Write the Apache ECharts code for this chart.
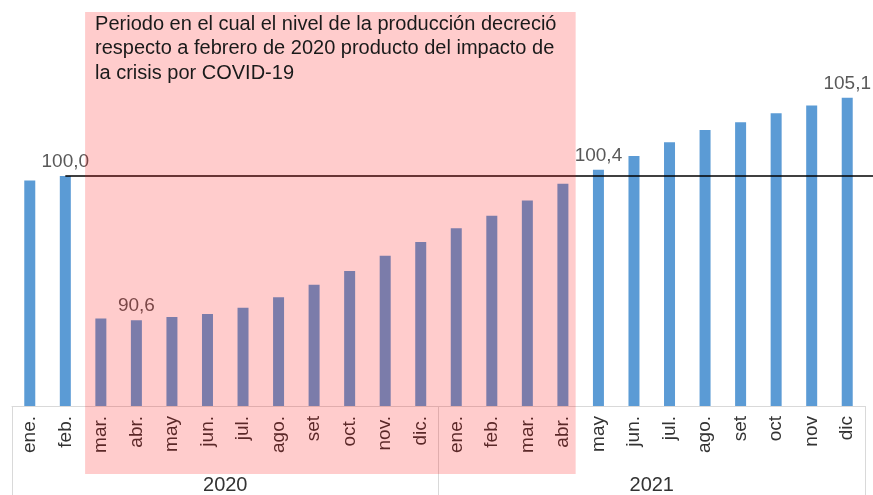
<!DOCTYPE html>
<html>
<head>
<meta charset="utf-8">
<title>Producción - índice feb 2020 = 100</title>
<script src="https://cdn.jsdelivr.net/npm/echarts@6/dist/echarts.min.js"></script>
<style>
html,body{margin:0;padding:0;background:#fff;}
#produccion_chart{width:873px;height:495px;}
</style>
</head>
<body>
<div id="produccion_chart"></div>
<script>
// datos
var meses = ['ene.','feb.','mar.','abr.','may','jun.','jul.','ago.','set','oct.','nov.','dic.',
             'ene.','feb.','mar.','abr.','may','jun.','jul.','ago.','set','oct','nov','dic'];
var anios = ['2020','2021'];
var valores = [99.7,100.0,90.7,90.6,90.8,91.0,91.4,92.1,92.9,93.8,94.8,95.7,
               96.6,97.4,98.4,99.5,100.4,101.3,102.2,103.0,103.5,104.1,104.6,105.1];
var etiquetados = [1,3,16,23];   // barras con etiqueta de valor
var nivelBase = 100;
var periodoCrisis = [2,15];      // mar. 2020 - abr. 2021
var textoCrisis = 'Periodo en el cual el nivel de la producción decreció\nrespecto a febrero de 2020 producto del impacto de\nla crisis por COVID-19';

var produccion = {
	init : function(){
		var myChart = echarts.init(document.getElementById('produccion_chart'));
		myChart.setOption(produccion.options());
		produccion.anotaciones(myChart);
	},

	options : function(){
		var datos = valores.map(function(v,i){
			if(etiquetados.indexOf(i) >= 0){
				return {value:v, label:{show:true}};
			}
			return v;
		});
		return {
			animation:false,
			grid:{left:12, right:8, top:84, bottom:83},
			xAxis:[
				{
					type:'category',
					data:meses,
					position:'bottom',
					axisLine:{show:false},
					axisTick:{show:false},
					axisLabel:{
						interval:0,
						rotate:90,
						margin:10,
						color:'#333',
						fontSize:19,
						fontFamily:'Liberation Sans'
					}
				},
				{
					type:'category',
					data:anios,
					position:'bottom',
					axisLine:{show:true, lineStyle:{color:'#D9D9D9', width:1}},
					axisTick:{show:true, length:90, lineStyle:{color:'#D9D9D9', width:1}},
					axisLabel:{
						margin:69,
						color:'#333',
						fontSize:20,
						fontFamily:'Liberation Sans'
					}
				}
			],
			yAxis:{
				type:'value',
				min:85,
				max:106,
				show:false,
				splitLine:{show:false}
			},
			series:[
				{
					type:'bar',
					xAxisIndex:0,
					data:datos,
					barWidth:11,
					itemStyle:{color:'#5B9BD5'},
					label:{
						show:false,
						position:'top',
						distance:5,
						color:'#595959',
						fontSize:19,
						fontFamily:'Liberation Sans',
						formatter:function(p){
							return p.value.toFixed(1).replace('.',',');
						}
					}
				}
			]
		};
	},

	// recuadro rosado, texto y línea de referencia (posiciones desde las escalas)
	anotaciones : function(chart){
		var px = function(i){ return chart.convertToPixel({xAxisIndex:0}, i); };
		var yBase = chart.convertToPixel({yAxisIndex:0}, nivelBase);
		var x1 = (px(periodoCrisis[0]-1) + px(periodoCrisis[0]))/2 + 2;
		var x2 = (px(periodoCrisis[1]) + px(periodoCrisis[1]+1))/2 - 5;
		chart.setOption({
			graphic:[
				{
					type:'line',
					z:40,
					shape:{x1:px(1), y1:yBase, x2:chart.getWidth(), y2:yBase},
					style:{stroke:'#000', lineWidth:1.5}
				},
				{
					type:'rect',
					z:50,
					shape:{x:x1, y:12, width:x2-x1, height:462},
					style:{fill:'rgba(255,0,0,0.2)'}
				},
				{
					type:'text',
					z:60,
					x:x1+10,
					y:12,
					style:{
						text:textoCrisis,
						fill:'#1a1a1a',
						font:'20px "Liberation Sans"',
						lineHeight:24.5
					}
				}
			]
		});
	}
};

produccion.init();
</script>
</body>
</html>
